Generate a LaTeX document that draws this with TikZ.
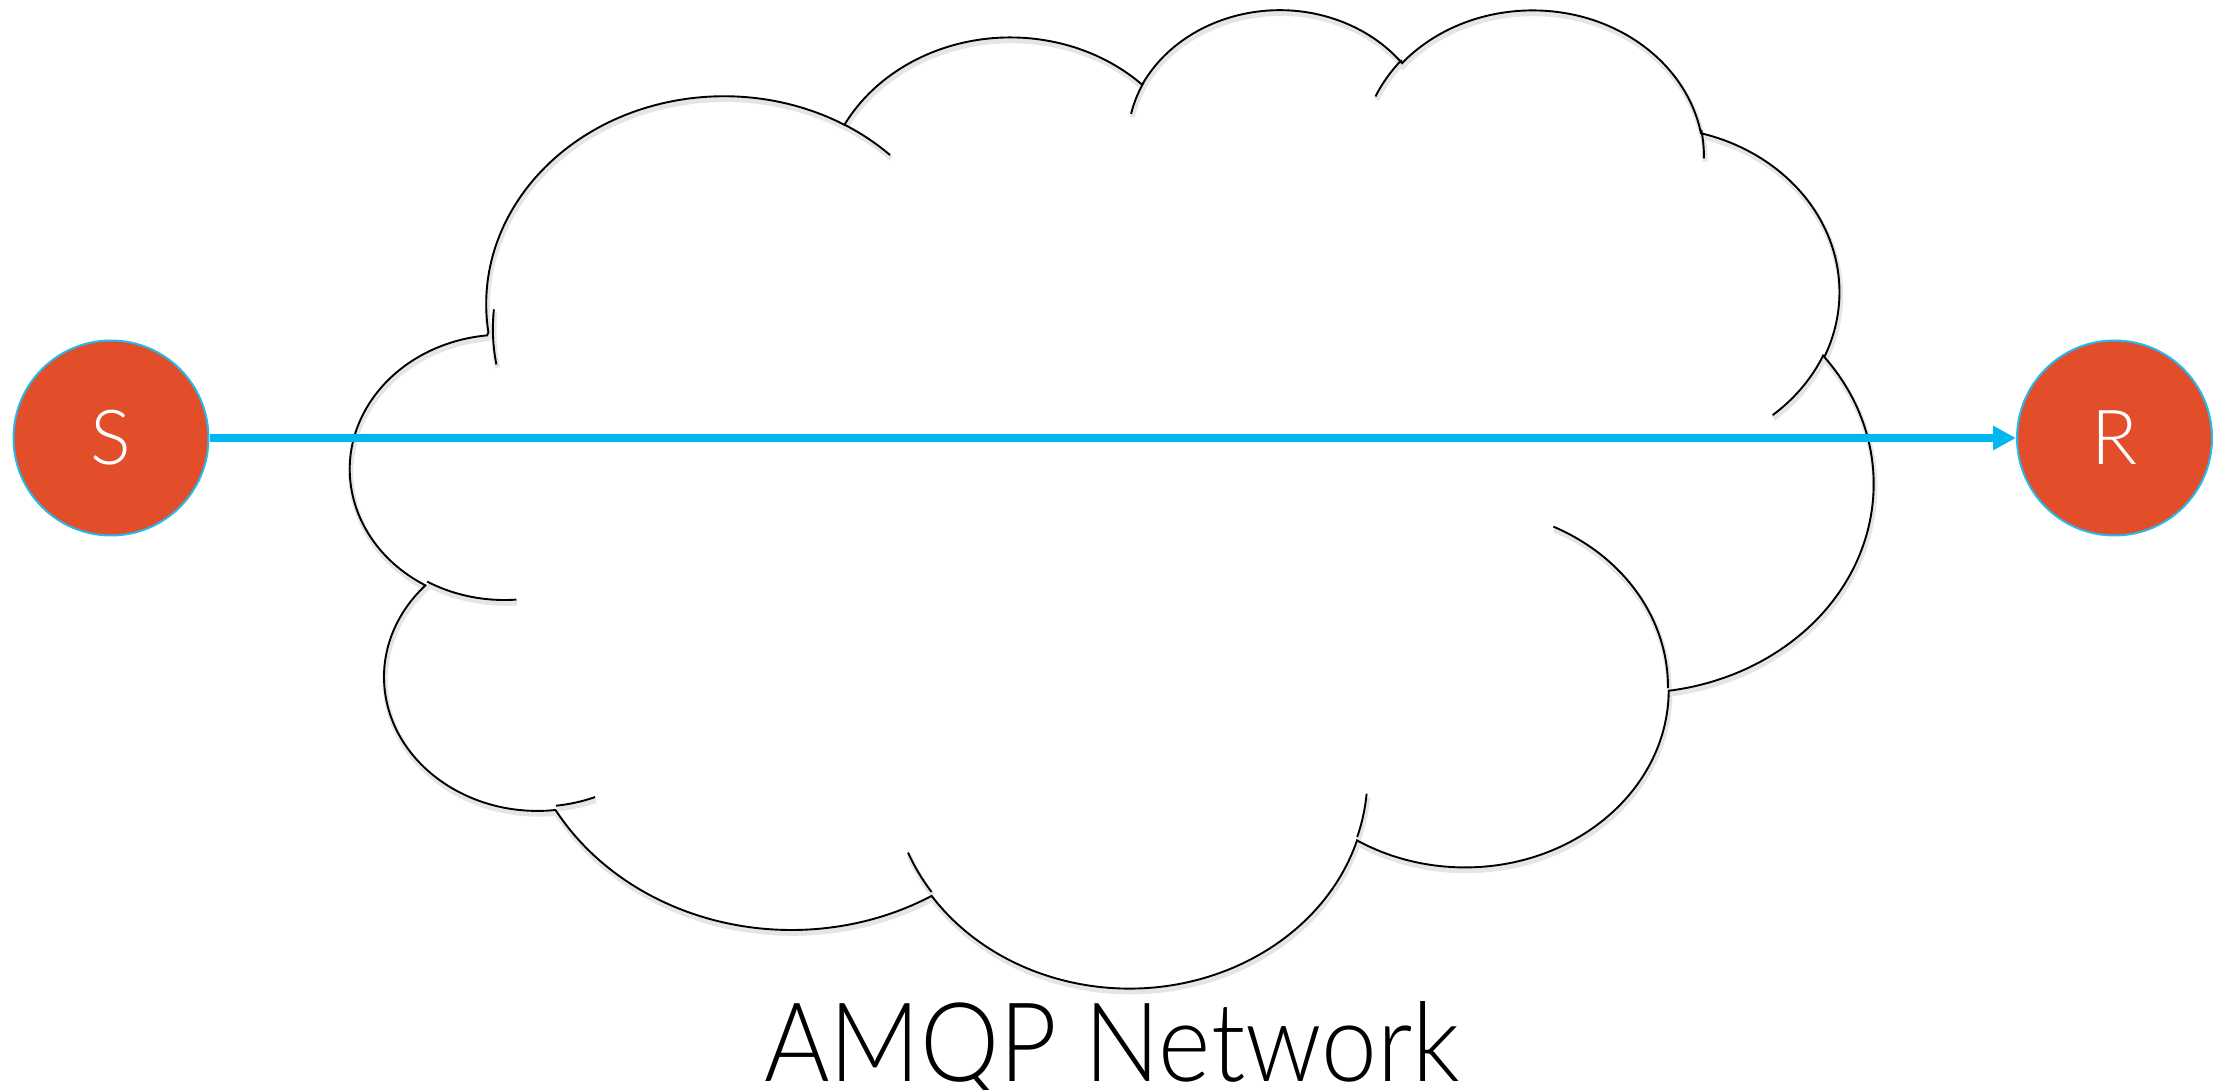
\documentclass[tikz,border=0pt]{standalone}
\usepackage{fontspec}
\newfontfamily\lightsans{Lato Light}
\usetikzlibrary{arrows.meta}

\definecolor{nodefill}{RGB}{226,78,42}
\definecolor{flowblue}{RGB}{0,183,240}
\definecolor{ringblue}{RGB}{40,185,235}

% Elliptic arc given by the angle of the ray from the centre (start and sweep),
% converted to the parametric angles that TikZ's arc expects.
\newcommand\ooangles[4]{%
  \pgfmathparse{atan2((#1)*sin(#3),(#2)*cos(#3))}\xdef\ooA{\pgfmathresult}%
  \pgfmathparse{atan2((#1)*sin(#3+#4),(#2)*cos(#3+#4))}\let\ooT\pgfmathresult
  \pgfmathparse{\ooT-\ooA}\let\ooD\pgfmathresult
  \ifdim #4pt>0pt
    \ifdim\ooD pt<0pt \pgfmathparse{\ooD+360}\let\ooD\pgfmathresult\fi
  \else
    \ifdim\ooD pt>0pt \pgfmathparse{\ooD-360}\let\ooD\pgfmathresult\fi
  \fi
  \pgfmathparse{\ooA+\ooD}\xdef\ooB{\pgfmathresult}%
}
\newcommand\ooarc[4]{\pgfextra{\ooangles{#1}{#2}{#3}{#4}} arc[start angle=\ooA, end angle=\ooB, x radius=#1, y radius=#2]}

% Cloud outline: eleven lobes on a 43.2 x 43.2 grid
\newcommand\cloudmain{%
 (3.900,14.370)
 \ooarc{6.753}{9.190}{-190.4875}{123.7805}
 \ooarc{5.333}{7.267}{-144.1024}{89.9452}
 \ooarc{4.365}{5.945}{-145.8079}{99.7230}
 \ooarc{4.857}{6.595}{-130.9861}{117.2417}
 \ooarc{5.333}{7.273}{-78.7089}{109.0269}
 \ooarc{6.775}{9.220}{-46.2673}{130.2690}
 \ooarc{5.785}{7.867}{0.6250}{114.0333}
 \ooarc{6.752}{9.215}{22.4516}{115.1726}
 \ooarc{7.720}{10.543}{66.2426}{75.7110}
 \ooarc{4.360}{5.918}{-274.9421}{146.7356}
 \ooarc{4.345}{5.945}{-246.8285}{152.5189}
 -- cycle}

% Short inner arcs where the lobes overlap
\newcommand\cloudtails{%
 (4.693,26.177) \ooarc{4.345}{5.945}{86.7420}{26.4295}
 (6.928,34.899) \ooarc{4.360}{5.918}{73.6105}{11.4475}
 (16.478,39.090) \ooarc{6.752}{9.215}{137.6242}{14.0811}
 (28.827,34.751) \ooarc{6.752}{9.215}{6.4533}{15.9984}
 (34.129,22.954) \ooarc{5.785}{7.867}{-70.2924}{70.9174}
 (41.798,15.354) \ooarc{5.333}{7.273}{30.3180}{27.7515}
 (38.324,5.426) \ooarc{4.857}{6.595}{-13.7443}{14.8524}
 (29.078,3.952) \ooarc{4.857}{6.595}{-149.1815}{18.1881}
 (22.141,4.720) \ooarc{4.365}{5.945}{-163.4943}{17.6864}
 (14.000,5.192) \ooarc{6.753}{9.190}{-66.7070}{12.3194}
 (4.127,15.789) \ooarc{6.753}{9.190}{166.6620}{20.6072}}

\begin{document}
\begin{tikzpicture}[x=0.5pt,y=-0.5pt,
  endpoint/.style={circle, fill=nodefill, draw=ringblue, line width=1pt,
    minimum size=97.5pt, inner sep=0pt, text=white,
    font=\lightsans\fontsize{38}{38}\selectfont},
  flow/.style={draw=flowblue, line width=3.9pt,
    -{Triangle[length=11.5pt,width=11.5pt]}},
  outline/.style={draw=black, line width=0.95pt},
  outlineshadow/.style={draw=black!10, line width=2.6pt},
  caption/.style={font=\lightsans\fontsize{55}{55}\selectfont,
    anchor=base, inner sep=0pt}]

\useasboundingbox (0,0) rectangle (2221,1090);

% network cloud, with a soft shadow under its lines
\begin{scope}[shift={(351,7)}, x=17.6157pt, y=-11.3194pt]
  \begin{scope}[shift={(0.5pt,-1.6pt)}]
    \path[outlineshadow] \cloudmain;
    \path[outlineshadow] \cloudtails;
  \end{scope}
  \path[outline] \cloudmain;
  \path[outline] \cloudtails;
\end{scope}

% sender and receiver
\node[endpoint] (S) at (111,438) {S};
\node[endpoint] (R) at (2114.5,438) {R};
\draw[flow] (S) -- (R);

\node[caption] (title) at (1112,1081) {\scalebox{0.91}[1]{AMQP Network}};
\end{tikzpicture}
\end{document}
